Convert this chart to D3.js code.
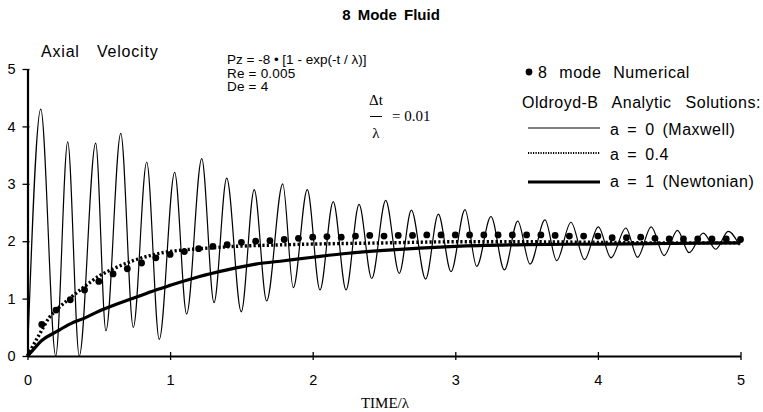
<!DOCTYPE html>
<html>
<head>
<meta charset="utf-8">
<script src="https://cdn.jsdelivr.net/npm/d3@7"></script>
<style>
  html, body { margin:0; padding:0; background:#fff; }
  svg { display:block; }
  text { font-family:"Liberation Sans", Arial, Helvetica, sans-serif; fill:#000; }
  .serif { font-family:"Liberation Serif", "Times New Roman", serif; }
</style>
</head>
<body>
<div id="chart"></div>
<script>
// ---- data ----
const xTicks = [0, 1, 2, 3, 4, 5];
const yTicks = [0, 1, 2, 3, 4, 5];

// a = 0 (Maxwell): start, then alternating peaks / troughs
const maxT = [0, 0.093, 0.198, 0.282, 0.363, 0.478, 0.550, 0.654, 0.742, 0.836, 0.924,
  1.032, 1.116, 1.222, 1.308, 1.397, 1.499, 1.590, 1.677, 1.790, 1.864, 1.962, 2.051,
  2.144, 2.234, 2.325, 2.414, 2.512, 2.607, 2.692, 2.792, 2.881, 2.970, 3.068, 3.150,
  3.250, 3.344, 3.438, 3.524, 3.629, 3.711, 3.811, 3.906, 4.003, 4.092, 4.196, 4.278,
  4.374, 4.464, 4.558, 4.639, 4.739, 4.827, 4.914, 4.992];
const maxV = [0, 4.30, 0.00, 3.73, 0.00, 3.71, 0.44, 3.88, 0.50, 3.38, 0.29,
  3.20, 0.73, 3.44, 0.93, 3.10, 0.77, 2.90, 0.96, 3.00, 1.19, 2.90, 1.15,
  2.69, 1.15, 2.64, 1.35, 2.71, 1.44, 2.54, 1.34, 2.47, 1.47, 2.55, 1.56,
  2.43, 1.50, 2.35, 1.60, 2.37, 1.66, 2.33, 1.68, 2.25, 1.71, 2.23, 1.72,
  2.25, 1.75, 2.19, 1.80, 2.14, 1.86, 2.17, 1.93];

// a = 0.4
const a04T = [0, 0.03, 0.08, 0.15, 0.21, 0.27, 0.39, 0.50, 0.62, 0.74, 0.86, 0.97,
  1.10, 1.21, 1.33, 1.45, 1.56, 2.0, 2.5, 3.0, 3.5, 4.0, 4.5, 5.0];
const a04V = [0, 0.14, 0.36, 0.66, 0.82, 0.95, 1.19, 1.39, 1.54, 1.66, 1.75, 1.81,
  1.85, 1.87, 1.89, 1.91, 1.92, 1.95, 1.97, 1.99, 1.99, 1.98, 1.97, 1.97];

// a = 1 (Newtonian)
const newtT = [0, 0.03, 0.1, 0.2, 0.3, 0.4, 0.5, 0.6, 0.7, 0.8, 0.9, 1.0, 1.2, 1.4,
  1.6, 1.8, 2.0, 2.25, 2.5, 2.75, 3.0, 3.5, 4.0, 4.5, 5.0];
const newtV = [0, 0.08, 0.27, 0.42, 0.56, 0.66, 0.78, 0.88, 0.97, 1.06, 1.15, 1.23,
  1.38, 1.50, 1.60, 1.66, 1.72, 1.79, 1.84, 1.88, 1.91, 1.94, 1.95, 1.96, 1.97];

// 8 mode numerical
const numT = [0.1, 0.2, 0.3, 0.4, 0.5, 0.6, 0.7, 0.8, 0.9, 1.0, 1.1, 1.2, 1.3, 1.4,
  1.5, 1.6, 1.7, 1.8, 1.9, 2.0, 2.1, 2.2, 2.3, 2.4, 2.5, 2.6, 2.7, 2.8, 2.9, 3.0,
  3.1, 3.2, 3.3, 3.4, 3.5, 3.6, 3.7, 3.8, 3.9, 4.0, 4.1, 4.2, 4.3, 4.4, 4.5, 4.6,
  4.7, 4.8, 4.9, 5.0];
const numV = [0.55, 0.80, 0.98, 1.15, 1.30, 1.43, 1.52, 1.62, 1.71, 1.77, 1.82, 1.87,
  1.91, 1.94, 1.98, 2.00, 2.01, 2.03, 2.05, 2.07, 2.08, 2.07, 2.09, 2.10, 2.09, 2.10,
  2.10, 2.11, 2.11, 2.11, 2.11, 2.11, 2.11, 2.11, 2.11, 2.11, 2.10, 2.09, 2.09, 2.09,
  2.06, 2.06, 2.07, 2.05, 2.04, 2.04, 2.04, 2.04, 2.04, 2.03];

// ---- drawing ----
const W = 763, H = 412;
const svg = d3.select("#chart").append("svg").attr("width", W).attr("height", H);
svg.append("rect").attr("width", W).attr("height", H).attr("fill", "#fff");

const x = d3.scaleLinear().domain([0, 5]).range([27.5, 740.5]);
const y = d3.scaleLinear().domain([0, 5]).range([356, 69]);

const pts = (ts, vs) => ts.map((t, i) => [t, vs[i]]);
const line = d3.line().x(d => x(d[0])).y(d => y(d[1])).curve(d3.curveMonotoneX);

// curves
svg.append("path").datum(pts(newtT, newtV))
  .attr("d", line).attr("fill", "none").attr("stroke", "#000").attr("stroke-width", 3.2);

svg.append("path").datum(pts(a04T, a04V))
  .attr("d", line).attr("fill", "none").attr("stroke", "#000")
  .attr("stroke-width", 3.4).attr("stroke-dasharray", "2.2,2.2");

svg.append("path").datum(pts(maxT, maxV))
  .attr("d", line).attr("fill", "none").attr("stroke", "#000").attr("stroke-width", 1.2);

svg.selectAll(".num").data(pts(numT, numV)).join("circle")
  .attr("class", "num")
  .attr("cx", d => x(d[0])).attr("cy", d => y(d[1])).attr("r", 3.4).attr("fill", "#000");

// axes
const gx = svg.append("g").attr("transform", `translate(0,${y(0)})`)
  .call(d3.axisBottom(x).tickValues(xTicks).tickFormat(d3.format("d")).tickSizeInner(4).tickSizeOuter(0));
gx.selectAll(".tick line").attr("y1", -4).attr("stroke-width", 1.3);
gx.select(".domain").attr("stroke-width", 2.2);
gx.selectAll(".tick text").attr("dy", 0).attr("y", 29).style("font-size", "14.5px")
  .style("font-family", "'Liberation Sans', Arial, sans-serif");

const gy = svg.append("g").attr("transform", `translate(${x(0)},0)`)
  .call(d3.axisLeft(y).tickValues(yTicks).tickFormat(d3.format("d")).tickSizeInner(5).tickSizeOuter(0));
gy.selectAll(".tick line").attr("x1", 2).attr("stroke-width", 1.3);
gy.select(".domain").attr("stroke-width", 2.2);
gy.selectAll(".tick text").attr("x", -12).style("font-size", "14.5px")
  .style("font-family", "'Liberation Sans', Arial, sans-serif");

// titles
svg.append("text").attr("x", 391).attr("y", 20).attr("text-anchor", "middle")
  .style("font-size", "15px").style("font-weight", "bold").style("word-spacing", "3px")
  .text("8 Mode Fluid");
svg.append("text").attr("x", 41).attr("y", 57)
  .style("font-size", "16px").style("letter-spacing", "0.8px").style("word-spacing", "12px")
  .text("Axial Velocity");
svg.append("text").attr("class", "serif").attr("x", 385).attr("y", 408).attr("text-anchor", "middle")
  .style("font-size", "15px").text("TIME/λ");

// parameters
const par = svg.append("g").style("font-size", "13.5px");
par.append("text").attr("x", 227).attr("y", 64).text("Pz = -8 • [1 - exp(-t / λ)]");
par.append("text").attr("x", 227).attr("y", 77.5).style("letter-spacing", "0.2px").text("Re = 0.005");
par.append("text").attr("x", 227).attr("y", 91).style("letter-spacing", "0.2px").text("De = 4");
const fr = svg.append("g").style("font-size", "15px");
fr.append("text").attr("class", "serif").attr("x", 376).attr("y", 105).attr("text-anchor", "middle").text("Δt");
fr.append("line").attr("x1", 370).attr("x2", 382).attr("y1", 116.5).attr("y2", 116.5).attr("stroke", "#000").attr("stroke-width", 1);
fr.append("text").attr("class", "serif").attr("x", 376).attr("y", 138).attr("text-anchor", "middle").text("λ");
fr.append("text").attr("class", "serif").attr("x", 392).attr("y", 121).text("= 0.01");

// legend
const lg = svg.append("g").style("font-size", "16px").style("letter-spacing", "0.5px");
lg.append("circle").attr("cx", 529).attr("cy", 72).attr("r", 3.4).attr("fill", "#000");
lg.append("text").attr("x", 538).attr("y", 78).style("word-spacing", "7px").text("8 mode Numerical");
lg.append("text").attr("x", 522).attr("y", 108).style("word-spacing", "9px").text("Oldroyd-B Analytic Solutions:");
lg.append("line").attr("x1", 528).attr("x2", 600).attr("y1", 128).attr("y2", 128)
  .attr("stroke", "#000").attr("stroke-width", 1.2);
lg.append("text").attr("x", 610).attr("y", 135).style("word-spacing", "3px").text("a = 0 (Maxwell)");
lg.append("line").attr("x1", 528).attr("x2", 600).attr("y1", 153).attr("y2", 153)
  .attr("stroke", "#000").attr("stroke-width", 1.8).attr("stroke-dasharray", "1.2,1.3");
lg.append("text").attr("x", 610).attr("y", 160).style("word-spacing", "3px").text("a = 0.4");
lg.append("line").attr("x1", 528).attr("x2", 600).attr("y1", 182).attr("y2", 182)
  .attr("stroke", "#000").attr("stroke-width", 3);
lg.append("text").attr("x", 610).attr("y", 187).style("word-spacing", "3px").text("a = 1 (Newtonian)");
</script>
</body>
</html>
